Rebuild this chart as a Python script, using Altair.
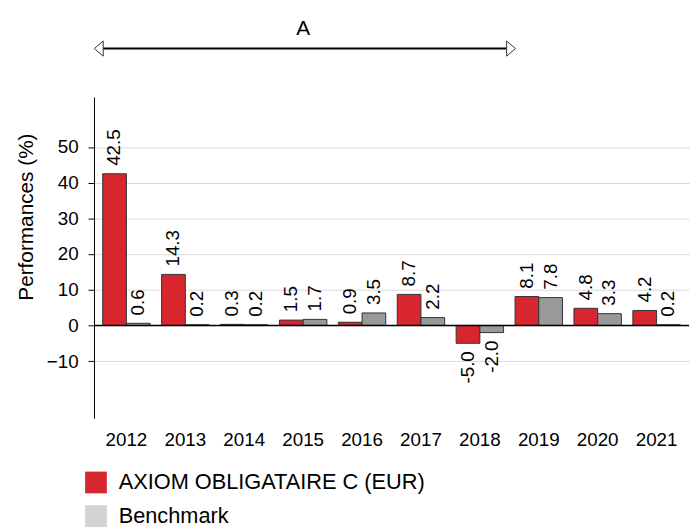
import altair as alt
import pandas as pd

years = ["2012", "2013", "2014", "2015", "2016", "2017", "2018", "2019", "2020", "2021"]
fund = [42.5, 14.3, 0.3, 1.5, 0.9, 8.7, -5.0, 8.1, 4.8, 4.2]
bench = [0.6, 0.2, 0.2, 1.7, 3.5, 2.2, -2.0, 7.8, 3.3, 0.2]
series_names = ["AXIOM OBLIGATAIRE C (EUR)", "Benchmark"]
bar_colors = ["#d7262e", "#999999"]
legend_colors = ["#d7262e", "#d3d3d3"]
y_ticks = [-10, 0, 10, 20, 30, 40, 50]
period_label = "A"
period_start, period_end = "2012", "2019"

rows = []
for yr, f, b in zip(years, fund, bench):
    rows.append({"year": yr, "series": series_names[0], "value": f})
    rows.append({"year": yr, "series": series_names[1], "value": b})
df = pd.DataFrame(rows)
df["label"] = df["value"].map(lambda v: f"{v:.1f}")

i0, i1 = years.index(period_start), years.index(period_end)
period_df = pd.DataFrame({
    "start": [period_start], "end": [period_end],
    "mid": [years[(i0 + i1 - 1) // 2]], "label": [period_label],
})

FONT = "Liberation Sans"
W, H = 602, 325
P_IN = 0.195
P_OUT = 0.148
HEAD_OFF = -4

x_scale = alt.Scale(domain=years, paddingInner=P_IN, paddingOuter=P_OUT)
y_scale = alt.Scale(domain=[-26, 64], nice=False, zero=False)
off_scale = alt.Scale(domain=series_names, paddingInner=0, paddingOuter=0)

x_axis = alt.Axis(title=None, labelAngle=0, ticks=False, domain=False, grid=False,
                  labelFontSize=19, labelPadding=13, labelFont=FONT, labelColor="black")
y_axis = alt.Axis(values=y_ticks, title="Performances (%)", grid=True, gridColor="#d9d9d9",
                  domainColor="black", tickColor="black", tickSize=6, labelPadding=10,
                  labelFontSize=19, labelFont=FONT, labelColor="black",
                  titleFont=FONT, titleFontSize=21, titleFontWeight="normal", titleColor="black",
                  titleAngle=270, titleX=-68, titleY=121, titleAlign="center", titleBaseline="middle")

base = alt.Chart(df)
X = alt.X("year:N", scale=x_scale, sort=years, axis=x_axis)
XO = alt.XOffset("series:N", sort=series_names, scale=off_scale)
Y = alt.Y("value:Q", scale=y_scale, axis=y_axis)

bars = base.mark_bar(stroke="#333333", strokeWidth=1).encode(
    x=X, xOffset=XO, y=Y,
    color=alt.Color("series:N", scale=alt.Scale(domain=series_names, range=bar_colors), legend=None),
)

pos_labels = base.transform_filter("datum.value >= 0").mark_text(
    angle=270, align="left", baseline="middle", dx=8, fontSize=19, font=FONT, color="black"
).encode(x=X, xOffset=XO, y=Y, text="label:N")

neg_labels = base.transform_filter("datum.value < 0").mark_text(
    angle=270, align="right", baseline="middle", dx=-8, fontSize=19, font=FONT, color="black"
).encode(x=X, xOffset=XO, y=Y, text="label:N")

zero_line = alt.Chart(pd.DataFrame({"v": [0]})).mark_rule(color="black", strokeWidth=1.5).encode(
    y=alt.Y("v:Q", scale=y_scale)
)

pc = alt.Chart(period_df)
arrow_line = pc.mark_rule(color="black", strokeWidth=2, xOffset=HEAD_OFF, x2Offset=HEAD_OFF).encode(
    x=alt.X("start:N", scale=x_scale, bandPosition=0),
    x2=alt.X2("end:N", bandPosition=0),
    y=alt.value(-49),
)
left_head = pc.mark_point(shape="M-1,0L1,-1.7L1,1.7Z", size=81, filled=True, color="white",
                          stroke="#333333", strokeWidth=1, opacity=1, xOffset=HEAD_OFF).encode(
    x=alt.X("start:N", scale=x_scale, bandPosition=0), y=alt.value(-49)
)
right_head = pc.mark_point(shape="M1,0L-1,-1.7L-1,1.7Z", size=81, filled=True, color="white",
                           stroke="#333333", strokeWidth=1, opacity=1, xOffset=HEAD_OFF).encode(
    x=alt.X("end:N", scale=x_scale, bandPosition=0), y=alt.value(-49)
)
period_text = pc.mark_text(fontSize=21, font=FONT, color="black", baseline="middle").encode(
    x=alt.X("mid:N", scale=x_scale), y=alt.value(-69), text="label:N"
)

legend_layer = alt.Chart(pd.DataFrame({"series": series_names})).mark_point(
    shape="square", filled=True, opacity=0
).encode(
    x=alt.value(0), y=alt.value(0),
    color=alt.Color("series:N", scale=alt.Scale(domain=series_names, range=legend_colors),
                    sort=series_names,
                    legend=alt.Legend(title=None, orient="none", legendX=-9, legendY=379,
                                      symbolType="square", symbolSize=484, symbolOpacity=1,
                                      symbolStrokeWidth=0, labelFontSize=22, labelFont=FONT,
                                      labelColor="black", labelOffset=12, rowPadding=12,
                                      labelLimit=0, padding=0, direction="vertical")),
)

chart = alt.layer(
    bars, zero_line, pos_labels, neg_labels, arrow_line, left_head, right_head, period_text, legend_layer
).resolve_scale(color="independent").properties(
    width=W, height=H,
    autosize=alt.AutoSizeParams(type="none"),
    padding={"left": 87, "top": 87, "right": 1, "bottom": 110},
).configure_view(stroke=None)

chart.save("out.html", embed_options={"renderer": "svg", "actions": False})
